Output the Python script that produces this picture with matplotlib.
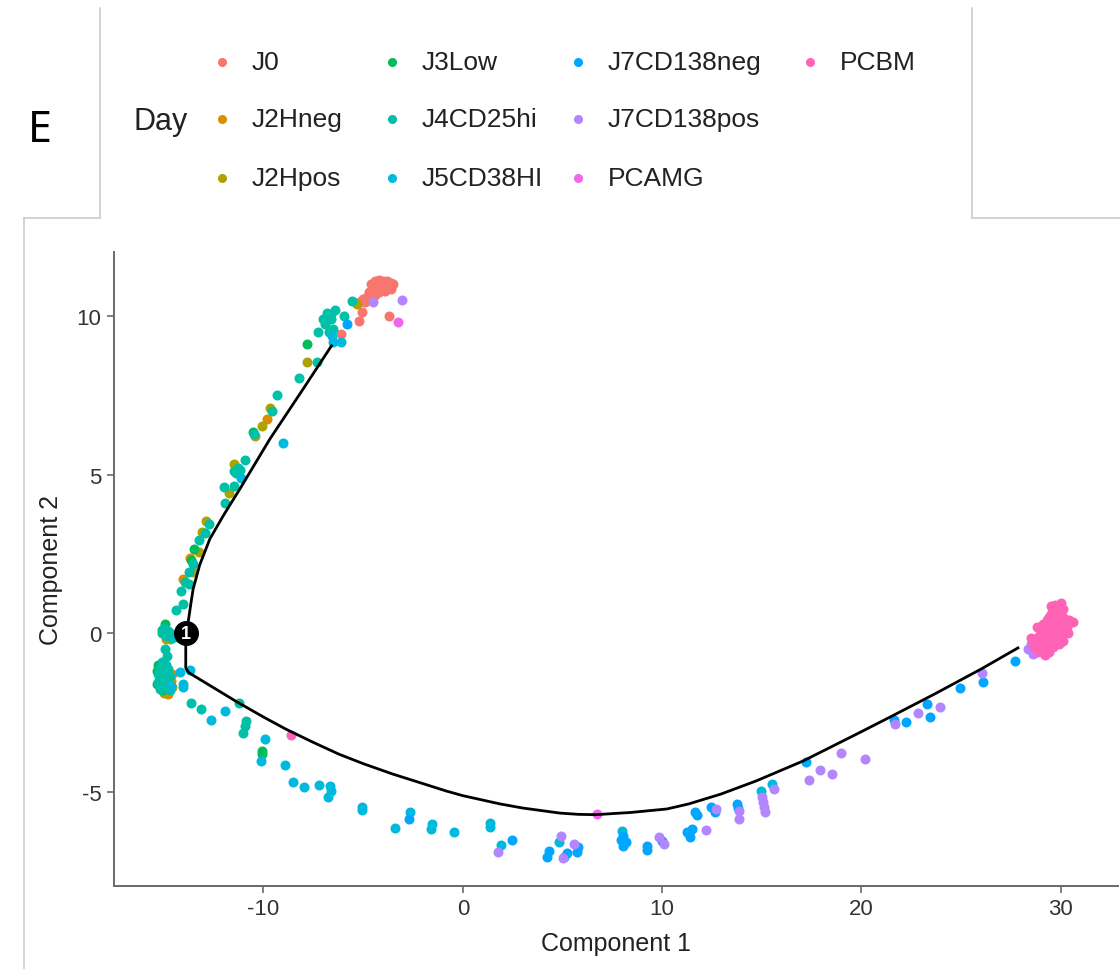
import matplotlib
matplotlib.use("Agg")
import matplotlib.pyplot as plt
from matplotlib.lines import Line2D

plt.rcParams['font.family'] = ['Liberation Sans', 'DejaVu Sans']
plt.rcParams['axes.unicode_minus'] = False

# ---------------- data ----------------
categories = ["J0", "J2Hneg", "J2Hpos", "J3Low", "J4CD25hi", "J5CD38HI",
              "J7CD138neg", "J7CD138pos", "PCAMG", "PCBM"]
colors = ["#F8766D", "#DB8E00", "#AEA200", "#00BD5C", "#00C1A7", "#00BADE",
          "#00A6FF", "#B385FF", "#EF67EB", "#FF63B6"]

J0_pts = [(-4.4, 11.1), (-4.2, 11.15), (-4.0, 11.1), (-3.8, 11.1), (-3.6, 11.05),
          (-3.8, 10.95), (-4.1, 10.95), (-4.3, 10.9), (-3.6, 10.85), (-4.5, 10.8),
          (-4.7, 10.75), (-3.9, 10.8), (-4.4, 10.65), (-4.8, 10.6), (-5.0, 10.55),
          (-4.6, 10.55), (-5.2, 10.45), (-4.9, 10.45), (-3.5, 11.0), (-4.6, 11.0),
          (-4.2, 10.75), (-5.07, 10.13), (-5.22, 9.84), (-3.71, 10.0), (-6.12, 9.43)]
J2Hneg_pts = [(-9.83, 6.75), (-10.44, 6.21), (-13.7, 2.37), (-14.05, 1.70),
              (-14.8, -1.93), (-14.6, -1.3), (-14.65, -1.5), (-14.9, -1.85), (-14.9, -0.2)]
J2Hpos_pts = [(-5.32, 10.38), (-7.83, 8.55), (-9.68, 7.1), (-10.09, 6.53), (-11.49, 5.33),
              (-11.74, 4.42), (-12.9, 3.53), (-13.1, 3.19), (-13.25, 2.55), (-13.55, 1.92),
              (-15.0, -1.9), (-14.6, -1.7), (-14.7, -0.18)]
J3Low_pts = [(-7.83, 9.12), (-10.54, 6.34), (-13.5, 2.65), (-13.65, 2.30), (-14.95, 0.28),
             (-6.6, 10.05), (-15.1, 0.1), (-15.3, -1.0), (-15.35, -1.2), (-15.2, -1.4),
             (-15.35, -1.6), (-15.1, -1.8), (-14.9, -1.2), (-10.09, -3.72), (-10.09, -3.82)]
J4CD25hi_pts = [(-5.57, 10.47), (-5.97, 10.0), (-6.8, 10.1), (-6.6, 9.9), (-6.9, 9.75),
                (-6.5, 9.6), (-6.7, 9.5), (-6.4, 10.2), (-7.0, 9.9), (-7.28, 9.5),
                (-7.33, 8.55), (-8.23, 8.04), (-9.33, 7.51), (-9.58, 7.0), (-10.49, 6.28),
                (-10.94, 5.46), (-11.5, 5.1), (-11.3, 5.2), (-11.2, 5.15), (-11.4, 5.05),
                (-11.99, 4.61), (-11.49, 4.64), (-11.94, 4.10), (-12.74, 3.44), (-12.95, 3.15),
                (-13.25, 2.93), (-13.55, 2.18), (-13.75, 1.92), (-13.95, 1.61), (-13.75, 1.55),
                (-14.15, 1.32), (-14.05, 0.91), (-14.4, 0.73),
                (-15.0, 0.15), (-14.8, 0.05), (-14.9, -0.1), (-14.7, 0.0), (-15.1, 0.0),
                (-14.6, -0.15), (-14.95, -0.5), (-14.85, -0.72),
                (-15.1, -0.9), (-14.9, -1.0), (-15.2, -1.1), (-14.8, -1.15), (-15.0, -1.25),
                (-15.3, -1.3), (-14.7, -1.35), (-14.9, -1.45), (-15.1, -1.5), (-15.3, -1.55),
                (-14.8, -1.6), (-15.0, -1.7), (-14.7, -1.8), (-15.2, -1.75),
                (-13.65, -2.21), (-13.15, -2.4), (-11.24, -2.21), (-10.89, -2.78),
                (-10.94, -2.93), (-11.04, -3.15)]
J5CD38HI_pts = [(-9.03, 6.0), (-11.14, 4.89), (-6.57, 9.37), (-6.12, 9.18), (-6.52, 9.18),
                (-14.35, -0.13), (-14.2, -1.23), (-13.7, -1.17), (-14.65, -1.67), (-14.05, -1.7),
                (-14.05, -1.6), (-12.65, -2.74), (-11.94, -2.46), (-9.9, -3.34), (-10.14, -4.04),
                (-8.93, -4.16), (-8.53, -4.70), (-7.98, -4.86), (-7.23, -4.79), (-6.67, -4.83),
                (-6.62, -4.98), (-6.77, -5.17), (-5.07, -5.49), (-5.07, -5.58), (-3.41, -6.15),
                (-2.66, -5.65), (-1.56, -6.03), (-1.61, -6.18), (-0.45, -6.28), (1.35, -6.0),
                (1.35, -6.12), (1.91, -6.69), (4.82, -6.59), (7.98, -6.25), (14.95, -4.98),
                (15.5, -4.76)]
J7CD138neg_pts = [(-5.82, 9.75), (-2.71, -5.87), (2.46, -6.53), (4.21, -7.07), (4.31, -6.88),
                  (5.22, -6.94), (5.07, -7.07), (5.77, -6.75), (5.72, -6.91), (8.03, -6.4),
                  (7.93, -6.53), (8.18, -6.59), (8.03, -6.72), (9.23, -6.72), (9.23, -6.85),
                  (9.98, -6.56), (11.64, -5.65), (11.74, -5.74), (11.24, -6.28), (11.39, -6.44),
                  (11.49, -6.18), (12.44, -5.49), (12.64, -5.65), (13.75, -5.39), (13.8, -5.52),
                  (17.21, -4.07), (21.63, -2.74), (22.23, -2.81), (23.28, -2.24), (23.43, -2.65),
                  (24.94, -1.74), (26.09, -1.55), (27.7, -0.88)]
J7CD138pos_pts = [(-4.52, 10.44), (-3.06, 10.5), (1.76, -6.91), (4.92, -6.40), (5.57, -6.66),
                  (5.02, -7.10), (9.83, -6.44), (10.09, -6.66), (12.19, -6.21), (12.69, -5.55),
                  (13.85, -5.87), (13.85, -5.61), (15.0, -5.17), (15.05, -5.33), (15.1, -5.49),
                  (15.15, -5.65), (15.6, -4.92), (17.36, -4.64), (17.91, -4.32), (18.52, -4.45),
                  (18.97, -3.79), (20.17, -3.97), (21.68, -2.87), (22.83, -2.52), (23.93, -2.33),
                  (26.04, -1.26), (28.35, -0.5), (28.6, -0.66), (28.5, -0.35)]
PCAMG_pts = [(-3.26, 9.81), (6.72, -5.71), (28.8, -0.6), (29.45, -0.41), (29.0, -0.55)]
PCBM_pts = [(-8.63, -3.22),
            (28.6, -0.4), (28.8, -0.5), (28.9, -0.3), (29.0, -0.6), (29.1, -0.4), (29.2, -0.2),
            (28.9, -0.1), (29.0, 0.0), (29.2, 0.1), (29.3, -0.1), (29.4, 0.2), (29.1, 0.3),
            (29.3, 0.4), (29.5, 0.0), (29.6, 0.3), (29.4, 0.5), (29.5, 0.6), (29.6, 0.7),
            (29.7, 0.5), (29.8, 0.8), (29.9, 0.9), (30.0, 0.95), (29.7, 0.9), (29.9, 0.6),
            (30.0, 0.7), (30.1, 0.5), (30.2, 0.4), (30.4, 0.4), (30.6, 0.35), (30.3, 0.2),
            (30.0, 0.2), (29.8, 0.1), (29.7, -0.1), (29.5, -0.3), (29.3, -0.5), (30.1, 0.0),
            (30.35, 0.0), (30.1, -0.25), (29.9, -0.35), (29.6, -0.45), (29.4, -0.6),
            (29.2, -0.7), (28.7, -0.2), (29.0, 0.2), (29.6, 0.1), (29.8, 0.35), (30.1, 0.75),
            (29.5, 0.85), (28.5, -0.15), (28.8, 0.2)]

cat_points = [J0_pts, J2Hneg_pts, J2Hpos_pts, J3Low_pts, J4CD25hi_pts, J5CD38HI_pts,
              J7CD138neg_pts, J7CD138pos_pts, PCAMG_pts, PCBM_pts]

# trajectory (principal graph) points
traj_x = [-6.59, -8.01, -9.68, -11.19, -12.0, -12.69, -13.2, -13.53, -13.65, -13.78, -13.9,
          -13.9, -13.75, -11.39, -10.0, -8.88, -7.5, -6.22, -5.0, -3.51, -2.0, -0.85, 0.0,
          1.86, 3.0, 4.87, 5.8, 6.67, 8.43, 10.24, 11.34, 12.95, 14.70, 17.06, 19.72,
          21.53, 23.68, 25.99, 27.85]
traj_y = [9.06, 7.70, 6.12, 4.54, 3.72, 2.97, 2.15, 1.39, 0.9, 0.34, 0.0,
          -1.1, -1.25, -2.15, -2.65, -3.03, -3.45, -3.82, -4.12, -4.45, -4.75, -4.98, -5.13,
          -5.39, -5.52, -5.68, -5.72, -5.73, -5.66, -5.55, -5.39, -5.08, -4.67, -4.04, -3.2,
          -2.62, -1.92, -1.14, -0.47]
node_x, node_y, node_label = -13.9, 0.0, "1"

x_ticks = [-10, 0, 10, 20, 30]
y_ticks = [-5, 0, 5, 10]

# ---------------- figure ----------------
W, H = 1120, 970
fig = plt.figure(figsize=(W / 100, H / 100), dpi=100)
fig.patch.set_facecolor("white")

def fx(px):
    return px / W

def fy(py):
    return 1 - py / H

ax = fig.add_axes([fx(114), fy(887), (1118 - 114) / W, (887 - 253) / H])
for pts, c in zip(cat_points, colors):
    ax.scatter([p[0] for p in pts], [p[1] for p in pts], s=52, color=c,
               linewidths=0, zorder=2)
ax.plot(traj_x, traj_y, color="black", lw=2.0, zorder=3, solid_joinstyle="round")
ax.plot([node_x], [node_y], marker="o", ms=17, color="black", zorder=4)
ax.text(node_x, node_y, node_label, color="white", fontsize=13, ha="center",
        va="center", zorder=5, fontweight="bold")

ax.set_xlim(-17.5, 32.87)
ax.set_ylim(-7.98, 12.02)
ax.set_xticks(x_ticks)
ax.set_yticks(y_ticks)
for s in ["top", "right"]:
    ax.spines[s].set_visible(False)
for s in ["left", "bottom"]:
    ax.spines[s].set_color("#6a6a6a")
    ax.spines[s].set_linewidth(1.4)
ax.tick_params(length=5, width=1.2, color="#6a6a6a", labelsize=16,
               labelcolor="#333333", pad=4)
ax.set_xlabel("Component 1", fontsize=18, color="#222222", labelpad=8)
ax.set_ylabel("Component 2", fontsize=18, color="#222222", labelpad=10)

# ---------------- panel borders ----------------
border = "#cccccc"
for (x0, y0, x1, y1) in [(100, 9, 100, 219), (24, 219, 100, 219), (24, 219, 24, 970),
                         (972, 9, 972, 219), (972, 219, 1120, 219)]:
    fig.add_artist(Line2D([fx(x0), fx(x1)], [fy(y0), fy(y1)], color=border, lw=1.2,
                          transform=fig.transFigure))

# ---------------- legend ----------------
fig.text(fx(40), fy(131), "E", fontsize=31, family=["Noto Sans", "DejaVu Sans"],
         ha="center", va="center", color="black")
fig.text(fx(134), fy(122), "Day", fontsize=22, ha="left", va="center", color="#222222")
col_marker_x = [222, 392, 578, 810]
row_y = [63, 120, 179]
for i, (cat, c) in enumerate(zip(categories, colors)):
    col, row = divmod(i, 3)
    mx, my = col_marker_x[col], row_y[row]
    fig.add_artist(Line2D([fx(mx)], [fy(my)], marker="o", ms=5.5, color=c, lw=0,
                          transform=fig.transFigure))
    fig.text(fx(mx + 30), fy(my), cat, fontsize=19, ha="left", va="center",
             color="#222222")

fig.savefig("out.png", dpi=100, facecolor="white")
